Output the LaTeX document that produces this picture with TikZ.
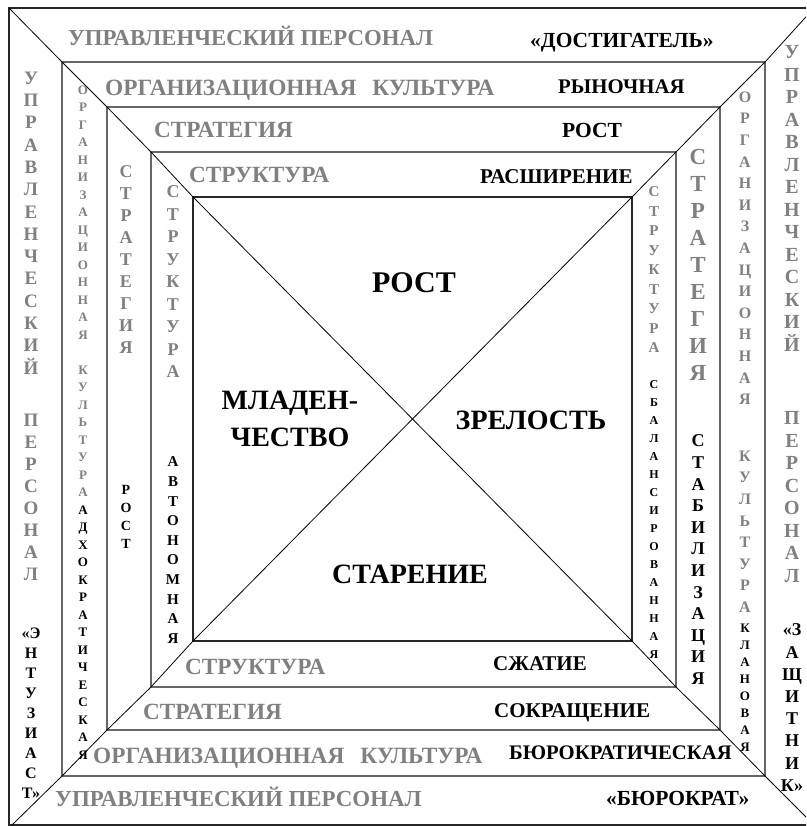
\documentclass[tikz,border=0pt]{standalone}
\usepackage{fontspec}
\setmainfont{Liberation Serif}
\newcommand\fsz[1]{\fontsize{#1}{#1}\selectfont\bfseries}
\definecolor{tg}{RGB}{128,128,128}
\tikzset{
  letter/.style={anchor=base, inner sep=0pt},
  hleft/.style={anchor=base west, inner sep=0pt},
  hmid/.style={anchor=base, inner sep=0pt},
  outerframe/.style={draw=black!85, line width=1.5pt},
  bandframe/.style={draw=black!60, line width=1.5pt},
  corebox/.style={draw=black!85, line width=2.6pt},
  diag/.style={draw=black, line width=0.8pt},
}
% vertical column of stacked letters: name, x, y of first letter centre, step, colour, size, letters
\newcommand\vcol[7]{%
  \foreach \ch [count=\k from 0] in {#7}{%
    \node[letter, text=#5, font=\fsz{#6}] (#1\k) at (#2, {#3+\k*#4+0.33*#6}) {\ch};}}
% horizontal text: name, left x, centre y, colour, size, text
\newcommand\htxt[6]{%
  \node[hleft, text=#4, font=\fsz{#5}] (#1) at (#2, {#3+0.33*#5}) {#6};}
\newcommand\ctxt[6]{%
  \node[hmid, text=#4, font=\fsz{#5}] (#1) at (#2, {#3+0.33*#5}) {#6};}
\begin{document}
\begin{tikzpicture}[x=1pt,y=-1pt]
\useasboundingbox (0,0) rectangle (806,826);
\fill[white] (0,0) rectangle (806,826);
\begin{scope}
\clip (0,0) rectangle (806,826);
\draw[outerframe] (9,8) rectangle (815,825);
\draw[bandframe] (62,62) rectangle (765,776);
\draw[bandframe] (107,107) rectangle (720,730);
\draw[bandframe] (151,152) rectangle (676,687);
\draw[corebox] (193,197) rectangle (632,641);
\draw[diag] (9,8) -- (62,62) -- (107,107) -- (151,152) -- (193,197) -- (632,641) -- (676,687) -- (720,730) -- (765,776) -- (814,825);
\draw[diag] (814,8) -- (765,62) -- (720,107) -- (676,152) -- (632,197) -- (193,641) -- (151,687) -- (107,730) -- (62,776) -- (12,825);
\end{scope}
% top band texts
\htxt{t1}{68}{38}{tg}{22.8}{УПРАВЛЕНЧЕСКИЙ ПЕРСОНАЛ}
\htxt{t2}{530}{40}{black}{21.5}{«ДОСТИГАТЕЛЬ»}
\htxt{t3}{105}{88}{tg}{23.3}{ОРГАНИЗАЦИОННАЯ\hspace{16pt}КУЛЬТУРА}
\htxt{t4}{558}{87}{black}{20.8}{РЫНОЧНАЯ}
\htxt{t5}{154}{130}{tg}{23.2}{СТРАТЕГИЯ}
\htxt{t6}{562}{130}{black}{21.5}{РОСТ}
\htxt{t7}{189}{175}{tg}{23.2}{СТРУКТУРА}
\htxt{t8}{480}{177}{black}{21}{РАСШИРЕНИЕ}
% bottom band texts
\htxt{b1}{185}{667}{tg}{23.2}{СТРУКТУРА}
\htxt{b2}{493}{664}{black}{21}{СЖАТИЕ}
\htxt{b3}{143}{712}{tg}{23.2}{СТРАТЕГИЯ}
\htxt{b4}{494}{711}{black}{21}{СОКРАЩЕНИЕ}
\htxt{b5}{93}{756}{tg}{23.3}{ОРГАНИЗАЦИОННАЯ\hspace{16pt}КУЛЬТУРА}
\htxt{b6}{509}{753}{black}{20.7}{БЮРОКРАТИЧЕСКАЯ}
\htxt{b7}{55}{799}{tg}{22.9}{УПРАВЛЕНЧЕСКИЙ ПЕРСОНАЛ}
\htxt{b8}{606}{798}{black}{21.5}{«БЮРОКРАТ»}
% centre
\ctxt{c1}{414}{283}{black}{30}{РОСТ}
\ctxt{c2}{290}{400}{black}{28}{МЛАДЕН-}
\ctxt{c3}{290}{437}{black}{28}{ЧЕСТВО}
\ctxt{c4}{531}{420}{black}{28}{ЗРЕЛОСТЬ}
\ctxt{c5}{410}{574}{black}{28}{СТАРЕНИЕ}
% left columns
\vcol{lA}{31}{78}{22.3}{tg}{19}{У,П,Р,А,В,Л,Е,Н,Ч,Е,С,К,И,Й}
\vcol{lB}{31}{420}{22}{tg}{19}{П,Е,Р,С,О,Н,А,Л}
\vcol{lC}{31}{633}{20}{black}{16}{«Э,Н,Т,У,З,И,А,С,Т»}
\vcol{lD}{83}{90}{17.5}{tg}{13}{О,Р,Г,А,Н,И,З,А,Ц,И,О,Н,Н,А,Я}
\vcol{lE}{83}{370}{17.5}{tg}{13}{К,У,Л,Ь,Т,У,Р,А}
\vcol{lF}{83}{510}{17.5}{black}{13}{А,Д,Х,О,К,Р,А,Т,И,Ч,Е,С,К,А,Я}
\vcol{lG}{126}{172}{22}{tg}{18}{С,Т,Р,А,Т,Е,Г,И,Я}
\vcol{lH}{126}{490}{18}{black}{14}{Р,О,С,Т}
\vcol{lI}{173}{192}{22.5}{tg}{18}{С,Т,Р,У,К,Т,У,Р,А}
\vcol{lJ}{173}{462}{19.6}{black}{15}{А,В,Т,О,Н,О,М,Н,А,Я}
% right columns
\vcol{rD}{654}{192}{19.5}{tg}{15}{С,Т,Р,У,К,Т,У,Р,А}
\vcol{rE}{654}{385}{18}{black}{12}{С,Б,А,Л,А,Н,С,И,Р,О,В,А,Н,Н,А,Я}
\vcol{rF}{698}{157}{27}{tg}{23}{С,Т,Р,А,Т,Е,Г,И,Я}
\vcol{rG}{698}{441}{21.6}{black}{18}{С,Т,А,Б,И,Л,И,З,А,Ц,И,Я}
\vcol{rH}{745}{97}{21.6}{tg}{16}{О,Р,Г,А,Н,И,З,А,Ц,И,О,Н,Н,А,Я}
\vcol{rI}{745}{456}{21.6}{tg}{16}{К,У,Л,Ь,Т,У,Р,А}
\vcol{rJ}{745}{628}{17}{black}{13}{К,Л,А,Н,О,В,А,Я}
\vcol{rA}{792}{52}{22.5}{tg}{20}{У,П,Р,А,В,Л,Е,Н,Ч,Е,С,К,И,Й}
\vcol{rB}{792}{418}{22.5}{tg}{20}{П,Е,Р,С,О,Н,А,Л}
\vcol{rC}{792}{630}{22.2}{black}{18}{«З,А,Щ,И,Т,Н,И,К»}
\end{tikzpicture}
\end{document}
